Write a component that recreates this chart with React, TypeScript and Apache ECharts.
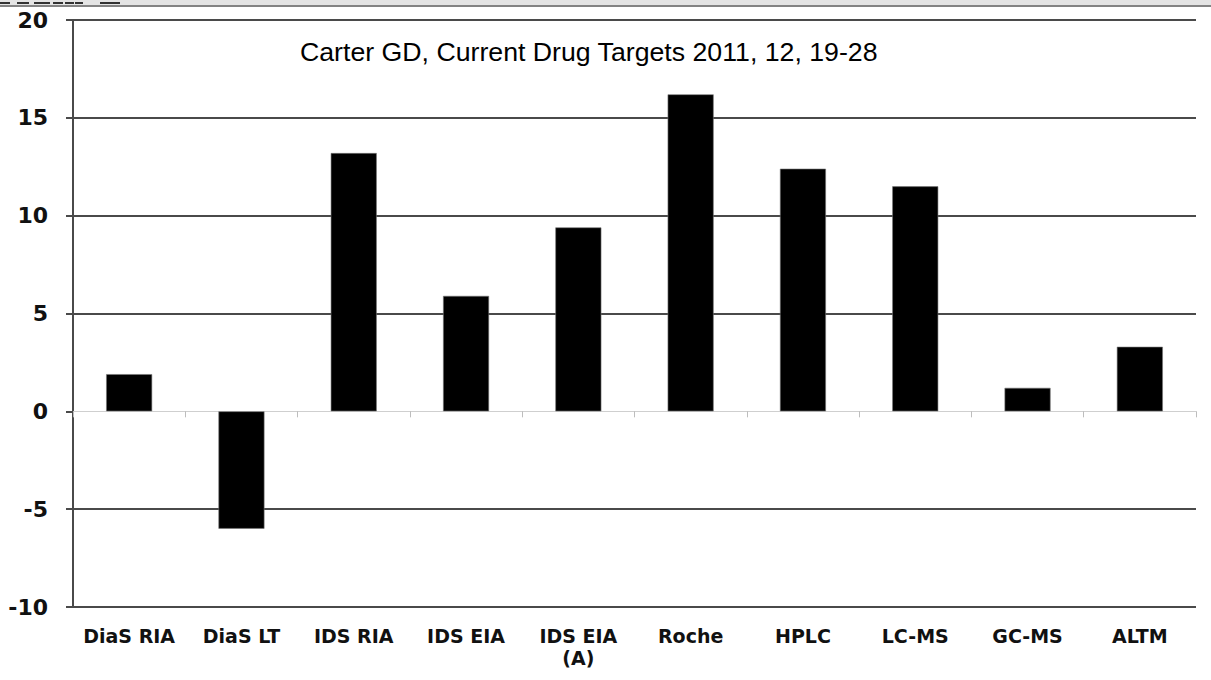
import React, { useEffect, useRef } from "react";
import * as echarts from "echarts";

// Assay methods and the mean bias (%) of each
const methods = [
  "DiaS RIA",
  "DiaS LT",
  "IDS RIA",
  "IDS EIA",
  "IDS EIA\n(A)",
  "Roche",
  "HPLC",
  "LC-MS",
  "GC-MS",
  "ALTM",
];
const bias = [1.9, -6.0, 13.2, 5.9, 9.4, 16.2, 12.4, 11.5, 1.2, 3.3];

const yMin = -10;
const yMax = 20;
const yStep = 5;

const citation = "Carter GD, Current Drug Targets 2011, 12, 19-28";

const GRID_DARK = "#4a4a4a";
const ZERO_LIGHT = "#cfcfcf";

export default function App() {
  const ref = useRef<HTMLDivElement>(null);

  useEffect(() => {
    if (!ref.current) return;
    const chart = echarts.init(ref.current, null, { renderer: "svg" });

    // split line colours cycle per tick: -10, -5, 0, 5, 10, 15, 20
    const splitColors: string[] = [];
    for (let v = yMin; v <= yMax; v += yStep) {
      splitColors.push(v === 0 ? "rgba(0,0,0,0)" : GRID_DARK);
    }

    chart.setOption({
      animation: false,
      backgroundColor: "#ffffff",
      grid: { left: 73, right: 15, top: 20, bottom: 73, containLabel: false },
      xAxis: [
        {
          type: "category",
          data: methods,
          position: "bottom",
          axisLine: { show: false, onZero: false },
          axisTick: { show: false },
          axisLabel: {
            interval: 0,
            margin: 18,
            color: "#111",
            fontFamily: "DejaVu Sans",
            fontWeight: "bold",
            fontSize: 19,
            lineHeight: 22,
          },
        },
        {
          type: "category",
          data: methods,
          position: "bottom",
          axisLine: {
            show: true,
            onZero: true,
            lineStyle: { color: ZERO_LIGHT, width: 1 },
          },
          axisTick: {
            show: true,
            length: 6,
            lineStyle: { color: "#bdbdbd", width: 1 },
          },
          axisLabel: { show: false },
        },
      ],
      yAxis: {
        type: "value",
        min: yMin,
        max: yMax,
        interval: yStep,
        axisLine: { show: true, lineStyle: { color: GRID_DARK, width: 2 } },
        axisTick: { show: true, length: 7, lineStyle: { color: GRID_DARK, width: 2 } },
        axisLabel: {
          margin: 25,
          color: "#111",
          fontFamily: "DejaVu Sans",
          fontWeight: "bold",
          fontSize: 22,
        },
        splitLine: { show: true, lineStyle: { color: splitColors, width: 2 } },
      },
      series: [
        {
          type: "bar",
          xAxisIndex: 0,
          data: bias,
          barWidth: 46,
          itemStyle: { color: "#000000", borderColor: "#777", borderWidth: 0.6 },
        },
      ],
      graphic: [
        // strip along the top edge
        {
          type: "rect",
          shape: { x: 0, y: 0, width: 1211, height: 5 },
          style: { fill: "#e4e4e4" },
          silent: true,
        },
        {
          type: "line",
          shape: { x1: 0, y1: 6, x2: 1211, y2: 6 },
          style: { stroke: "#5a5a5a", lineWidth: 1.5 },
          silent: true,
        },
        ...[
          [0, 10],
          [17, 12],
          [34, 16],
          [53, 10],
          [65, 9],
          [75, 8],
          [100, 20],
        ].map(([x, w]) => ({
          type: "rect",
          shape: { x, y: 2, width: w, height: 2 },
          style: { fill: "#333" },
          silent: true,
        })),
        {
          type: "text",
          left: 300,
          top: 38,
          style: {
            text: citation,
            fill: "#000",
            fontFamily: "Liberation Sans, Arial, sans-serif",
            fontSize: 26.7,
          },
          silent: true,
        },
      ],
    });

    return () => chart.dispose();
  }, []);

  return (
    <div
      ref={ref}
      style={{ position: "fixed", left: 0, top: 0, width: 1211, height: 680 }}
    />
  );
}
